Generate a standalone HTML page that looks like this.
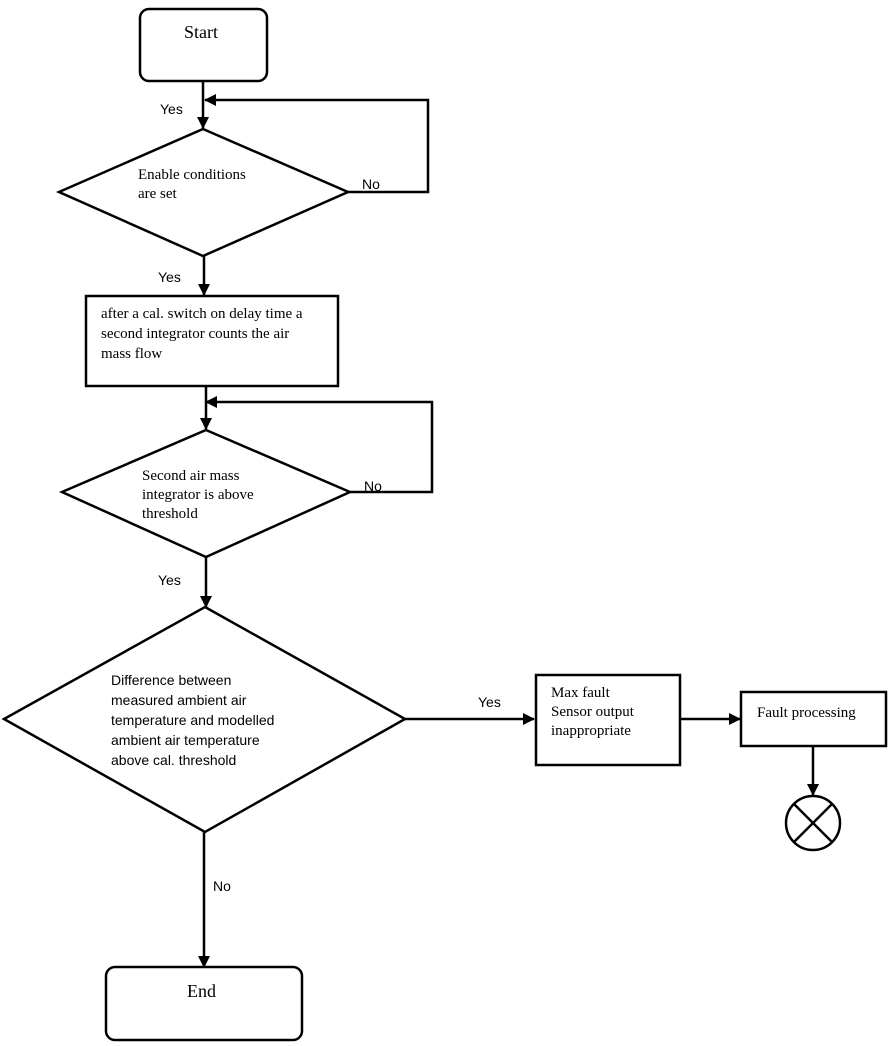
<!DOCTYPE html>
<html><head><meta charset="utf-8"><style>
html,body{margin:0;padding:0;background:#fff;}
svg{display:block;}
.s{font-family:"Liberation Serif",serif;font-size:15px;fill:#000;}
.b{font-family:"Liberation Serif",serif;font-size:18px;fill:#000;}
.a{font-family:"Liberation Sans",sans-serif;font-size:14px;fill:#000;}
</style></head><body>
<svg width="896" height="1046" viewBox="0 0 896 1046" xmlns="http://www.w3.org/2000/svg">
<defs><marker id="ar" markerWidth="12" markerHeight="12" refX="11" refY="6" orient="auto" markerUnits="userSpaceOnUse"><path d="M0,0 L12,6 L0,12 z" fill="#000"/></marker></defs>
<g fill="none" stroke="#000" stroke-width="2.5">
<rect x="140" y="9" width="127" height="72" rx="9"/>
<line x1="203" y1="81" x2="203" y2="128" marker-end="url(#ar)"/>
<polyline points="348,192 428,192 428,100 205,100" marker-end="url(#ar)"/>
<polygon points="203,129 348,192 203,256 59,192"/>
<line x1="204" y1="256" x2="204" y2="295" marker-end="url(#ar)"/>
<rect x="86" y="296" width="252" height="90"/>
<line x1="206" y1="386" x2="206" y2="429" marker-end="url(#ar)"/>
<polyline points="350,492 432,492 432,402 206,402" marker-end="url(#ar)"/>
<polygon points="206,430 350,492 206,557 62,492"/>
<line x1="206" y1="557" x2="206" y2="607" marker-end="url(#ar)"/>
<polygon points="205,607 405,719 205,832 4,719"/>
<line x1="405" y1="719" x2="534" y2="719" marker-end="url(#ar)"/>
<rect x="536" y="675" width="144" height="90"/>
<line x1="680" y1="719" x2="740" y2="719" marker-end="url(#ar)"/>
<rect x="741" y="692" width="145" height="54"/>
<line x1="813" y1="746" x2="813" y2="795" marker-end="url(#ar)"/>
<circle cx="813" cy="823" r="27"/>
<line x1="794" y1="804" x2="832" y2="842"/>
<line x1="832" y1="804" x2="794" y2="842"/>
<line x1="204" y1="832" x2="204" y2="967" marker-end="url(#ar)"/>
<rect x="106" y="967" width="196" height="73" rx="9"/>
</g>
<text class="b" x="184" y="38">Start</text>
<text class="a" x="160" y="114">Yes</text>
<text class="s" x="138" y="179">Enable conditions</text>
<text class="s" x="138" y="198">are set</text>
<text class="a" x="362" y="189">No</text>
<text class="a" x="158" y="282">Yes</text>
<text class="s" x="101" y="318">after a cal. switch on delay time a</text>
<text class="s" x="101" y="338">second integrator counts the air</text>
<text class="s" x="101" y="358">mass flow</text>
<text class="s" x="142" y="480">Second air mass</text>
<text class="s" x="142" y="499">integrator is above</text>
<text class="s" x="142" y="518">threshold</text>
<text class="a" x="364" y="491">No</text>
<text class="a" x="158" y="585">Yes</text>
<text class="a" x="111" y="685">Difference between</text>
<text class="a" x="111" y="705">measured ambient air</text>
<text class="a" x="111" y="725">temperature and modelled</text>
<text class="a" x="111" y="745">ambient air temperature</text>
<text class="a" x="111" y="765">above cal. threshold</text>
<text class="a" x="478" y="707">Yes</text>
<text class="s" x="551" y="697">Max fault</text>
<text class="s" x="551" y="716">Sensor output</text>
<text class="s" x="551" y="735">inappropriate</text>
<text class="s" x="757" y="717">Fault processing</text>
<text class="a" x="213" y="891">No</text>
<text class="b" x="187" y="997">End</text>
</svg>
</body></html>
